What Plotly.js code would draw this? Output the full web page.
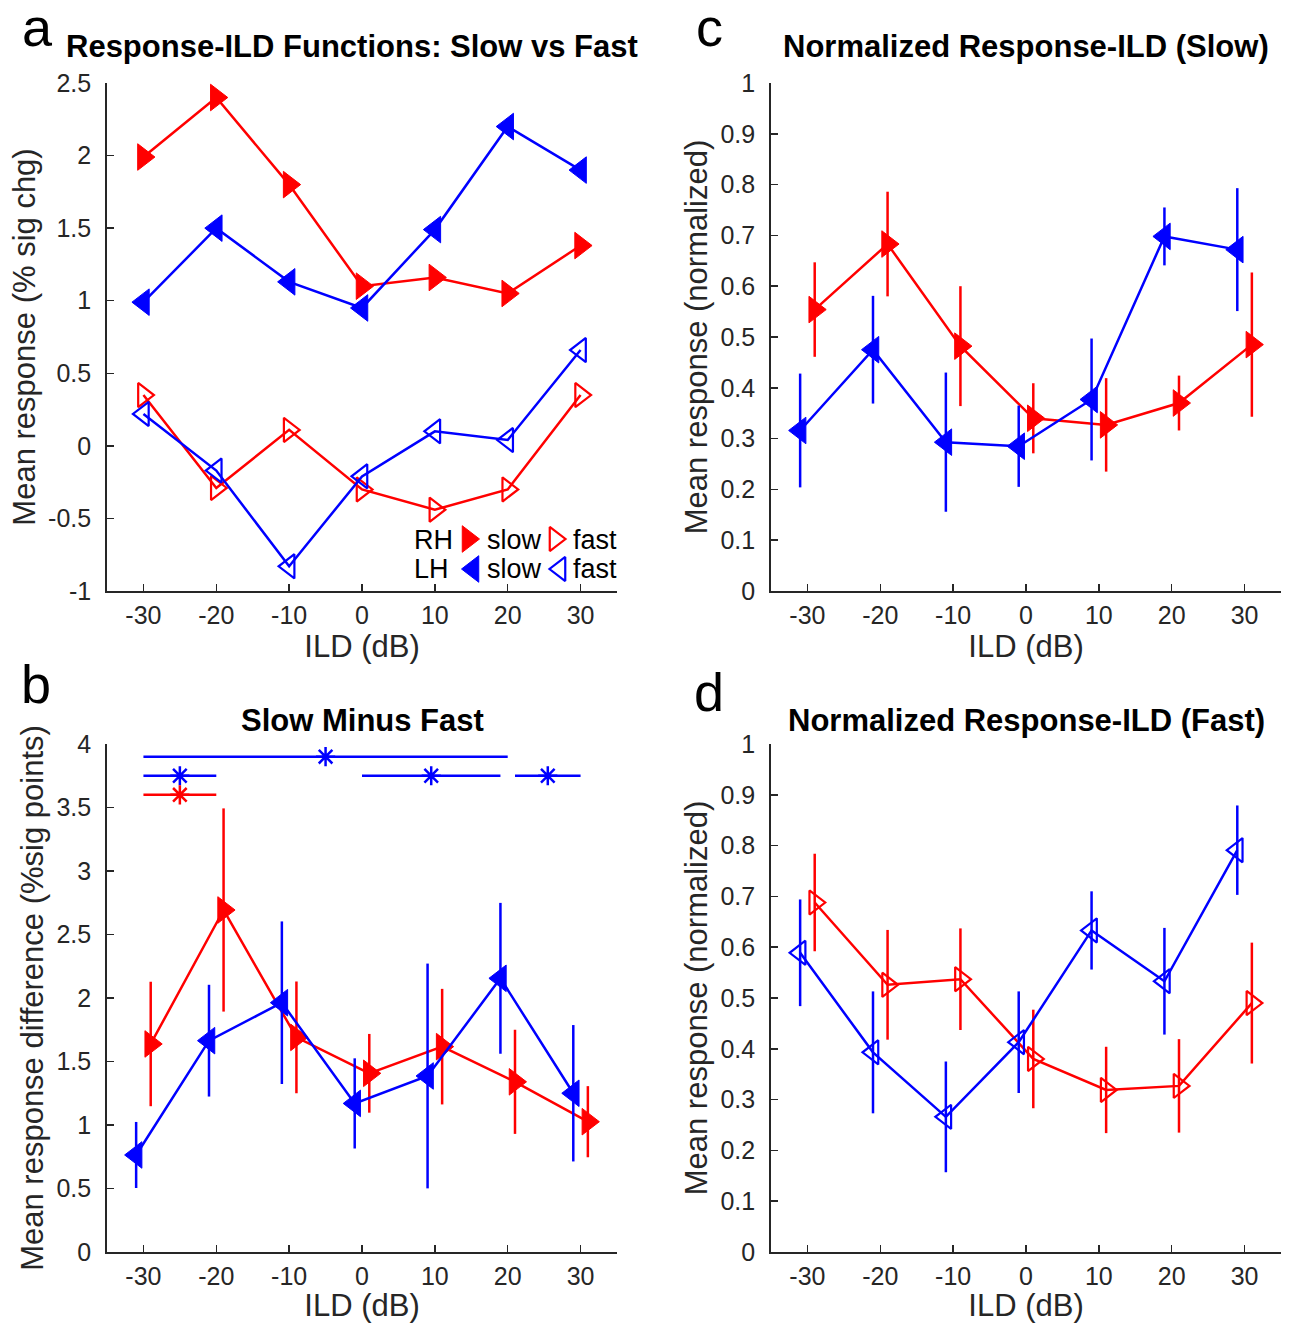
<!DOCTYPE html>
<html>
<head>
<meta charset="utf-8">
<script src="https://cdn.plot.ly/plotly-3.0.1.min.js"></script>
<style>html,body{margin:0;padding:0;background:#fff;}#chart{width:1295px;height:1323px;}</style>
</head>
<body>
<div id="chart"></div>
<script>
// ---------------- data ----------------
var ild = [-30, -20, -10, 0, 10, 20, 30];
var xTickLabels = ['-30', '-20', '-10', '0', '10', '20', '30'];
var yTicksA = [-1, -0.5, 0, 0.5, 1, 1.5, 2, 2.5];
var yTickLabelsA = ['-1', '-0.5', '0', '0.5', '1', '1.5', '2', '2.5'];
var yTicksN = [0, 0.1, 0.2, 0.3, 0.4, 0.5, 0.6, 0.7, 0.8, 0.9, 1];
var yTickLabelsN = ['0', '0.1', '0.2', '0.3', '0.4', '0.5', '0.6', '0.7', '0.8', '0.9', '1'];
var yTicksB = [0, 0.5, 1, 1.5, 2, 2.5, 3, 3.5, 4];
var yTickLabelsB = ['0', '0.5', '1', '1.5', '2', '2.5', '3', '3.5', '4'];

// panel a: raw response (% sig chg)
var rhSlowA = [1.99, 2.40, 1.80, 1.10, 1.16, 1.05, 1.38];
var lhSlowA = [0.99, 1.50, 1.13, 0.95, 1.49, 2.20, 1.90];
var rhFastA = [0.35, -0.29, 0.11, -0.30, -0.44, -0.30, 0.35];
var lhFastA = [0.22, -0.17, -0.83, -0.21, 0.10, 0.04, 0.66];

// panel c: normalized slow
var rhSlowN = [0.554, 0.683, 0.482, 0.340, 0.327, 0.370, 0.485];
var rhSlowNErr = [0.093, 0.103, 0.118, 0.069, 0.092, 0.054, 0.142];
var lhSlowN = [0.316, 0.475, 0.293, 0.285, 0.377, 0.698, 0.672];
var lhSlowNErr = [0.112, 0.106, 0.137, 0.080, 0.120, 0.057, 0.121];

// panel b: slow minus fast
var rhDiff = [1.638, 2.693, 1.690, 1.407, 1.617, 1.340, 1.026];
var rhDiffErr = [0.49, 0.80, 0.44, 0.31, 0.455, 0.41, 0.28];
var lhDiff = [0.764, 1.664, 1.963, 1.170, 1.386, 2.155, 1.250];
var lhDiffErr = [0.26, 0.44, 0.64, 0.355, 0.885, 0.594, 0.537];

// panel b: significance bars
var sigBlueStart = [-30, -30, 0, 21];
var sigBlueEnd = [20, -20, 19, 30];
var sigBlueY = [3.9, 3.75, 3.75, 3.75];
var sigRedStart = [-30];
var sigRedEnd = [-20];
var sigRedY = [3.6];

// panel d: normalized fast
var rhFastN = [0.688, 0.526, 0.537, 0.380, 0.319, 0.327, 0.490];
var rhFastNErr = [0.096, 0.108, 0.100, 0.097, 0.085, 0.092, 0.119];
var lhFastN = [0.589, 0.393, 0.266, 0.413, 0.633, 0.533, 0.791];
var lhFastNErr = [0.105, 0.120, 0.109, 0.100, 0.077, 0.105, 0.088];

// ---------------- styling ----------------
var RED = '#FF0000', BLUE = '#0000FF', AX = '#262626';
var FONT = '"Liberation Sans", Arial, Helvetica, sans-serif';
var W = 1295, H = 1323;
var jitter = 1.0;
var FILLED = 23, OPEN = 21;
function shift(arr, d) { return arr.map(function (v) { return v + d; }); }

function series(x, y, color, symbol, xa, ya, err) {
  var open = symbol.indexOf('open') >= 0;
  var t = {
    type: 'scatter', mode: 'lines+markers', x: x, y: y, xaxis: xa, yaxis: ya,
    line: { color: color, width: 2.5 },
    marker: { symbol: symbol, size: open ? OPEN : FILLED, color: color,
              line: { color: color, width: open ? 2.2 : 1 } },
    hoverinfo: 'skip', showlegend: false, cliponaxis: false
  };
  if (err) t.error_y = { type: 'data', array: err, visible: true, color: color, thickness: 2.5, width: 0 };
  return t;
}

function sigTraces(starts, ends, ys, color) {
  var lx = [], ly = [], mx = [], my = [];
  for (var i = 0; i < starts.length; i++) {
    lx.push(starts[i], ends[i], null); ly.push(ys[i], ys[i], null);
    mx.push((starts[i] + ends[i]) / 2); my.push(ys[i]);
  }
  return [
    { type: 'scatter', mode: 'lines', x: lx, y: ly, xaxis: 'x3', yaxis: 'y3',
      line: { color: color, width: 2.5 }, hoverinfo: 'skip', showlegend: false, cliponaxis: false },
    { type: 'scatter', mode: 'markers', x: mx, y: my, xaxis: 'x3', yaxis: 'y3',
      marker: { symbol: 'asterisk-open', size: 16, color: color, line: { color: color, width: 2.5 } },
      hoverinfo: 'skip', showlegend: false, cliponaxis: false }
  ];
}

var traces = [];
// panel a
traces.push(series(ild, rhFastA, RED, 'triangle-right-open', 'x', 'y'));
traces.push(series(ild, lhFastA, BLUE, 'triangle-left-open', 'x', 'y'));
traces.push(series(ild, rhSlowA, RED, 'triangle-right', 'x', 'y'));
traces.push(series(ild, lhSlowA, BLUE, 'triangle-left', 'x', 'y'));
// panel c
traces.push(series(shift(ild, jitter), rhSlowN, RED, 'triangle-right', 'x2', 'y2', rhSlowNErr));
traces.push(series(shift(ild, -jitter), lhSlowN, BLUE, 'triangle-left', 'x2', 'y2', lhSlowNErr));
// panel b
traces.push(series(shift(ild, jitter), rhDiff, RED, 'triangle-right', 'x3', 'y3', rhDiffErr));
traces.push(series(shift(ild, -jitter), lhDiff, BLUE, 'triangle-left', 'x3', 'y3', lhDiffErr));
traces = traces.concat(sigTraces(sigBlueStart, sigBlueEnd, sigBlueY, BLUE));
traces = traces.concat(sigTraces(sigRedStart, sigRedEnd, sigRedY, RED));
// panel d
traces.push(series(shift(ild, jitter), rhFastN, RED, 'triangle-right-open', 'x4', 'y4', rhFastNErr));
traces.push(series(shift(ild, -jitter), lhFastN, BLUE, 'triangle-left-open', 'x4', 'y4', lhFastNErr));

// legend glyphs on a pixel-space overlay axis
function legendGlyph(px, py, color, symbol) {
  var open = symbol.indexOf('open') >= 0;
  return { type: 'scatter', mode: 'markers', x: [px], y: [py], xaxis: 'x5', yaxis: 'y5',
    marker: { symbol: symbol, size: open ? OPEN : FILLED, color: color, line: { color: color, width: open ? 2.2 : 1 } },
    hoverinfo: 'skip', showlegend: false, cliponaxis: false };
}
traces.push(legendGlyph(468, 539, RED, 'triangle-right'));
traces.push(legendGlyph(555, 539, RED, 'triangle-right-open'));
traces.push(legendGlyph(473, 569, BLUE, 'triangle-left'));
traces.push(legendGlyph(560, 569, BLUE, 'triangle-left-open'));

function xDom(l, r) { return [l / W, r / W]; }
function yDom(t, b) { return [1 - b / H, 1 - t / H]; }

function xAxis(dom, anchor) {
  return {
    domain: dom, anchor: anchor, range: [-35, 35],
    tickmode: 'array', tickvals: ild, ticktext: xTickLabels,
    ticks: 'inside', ticklen: 7, tickwidth: 1.5, tickcolor: AX,
    showline: true, linecolor: AX, linewidth: 1.8, mirror: false,
    showgrid: false, zeroline: false,
    tickfont: { family: FONT, size: 25, color: AX },
    ticklabelstandoff: 1,
    title: { text: 'ILD (dB)', font: { family: FONT, size: 31, color: AX }, standoff: 0 },
    automargin: false, fixedrange: true
  };
}
function yAxis(dom, anchor, range, ticks, labels, title) {
  return {
    domain: dom, anchor: anchor, range: range,
    tickmode: 'array', tickvals: ticks, ticktext: labels,
    ticks: 'inside', ticklen: 7, tickwidth: 1.5, tickcolor: AX,
    showline: true, linecolor: AX, linewidth: 1.8, mirror: false,
    showgrid: false, zeroline: false,
    tickfont: { family: FONT, size: 25, color: AX },
    ticklabelstandoff: 9,
    title: { text: title, font: { family: FONT, size: 31, color: AX }, standoff: 3 },
    automargin: false, fixedrange: true
  };
}

function ann(text, px, py, size, opts) {
  var a = { text: text, x: px, y: py, xref: 'x5', yref: 'y5', showarrow: false,
    font: { family: FONT, size: size, color: '#000' }, xanchor: 'center', yanchor: 'middle' };
  for (var k in (opts || {})) a[k] = opts[k];
  return a;
}

var topL = xDom(107, 617), topR = xDom(771, 1281);
var rowT = yDom(83, 591), rowB = yDom(744, 1252);

var layout = {
  width: W, height: H,
  margin: { l: 0, r: 0, t: 0, b: 0, pad: 0 },
  paper_bgcolor: '#fff', plot_bgcolor: 'rgba(0,0,0,0)',
  showlegend: false,
  font: { family: FONT, color: '#000' },
  xaxis: xAxis(topL, 'y'),
  yaxis: yAxis(rowT, 'x', [-1, 2.5], yTicksA, yTickLabelsA, 'Mean response (% sig chg)'),
  xaxis2: xAxis(topR, 'y2'),
  yaxis2: yAxis(rowT, 'x2', [0, 1], yTicksN, yTickLabelsN, 'Mean response (normalized)'),
  xaxis3: xAxis(topL, 'y3'),
  yaxis3: yAxis(rowB, 'x3', [0, 4], yTicksB, yTickLabelsB, 'Mean response difference (%sig points)'),
  xaxis4: xAxis(topR, 'y4'),
  yaxis4: yAxis(rowB, 'x4', [0, 1], yTicksN, yTickLabelsN, 'Mean response (normalized)'),
  xaxis5: { domain: [0, 1], anchor: 'y5', range: [0, W], visible: false, fixedrange: true },
  yaxis5: { domain: [0, 1], anchor: 'x5', range: [H, 0], visible: false, fixedrange: true },
  annotations: [
    ann('<b>Response-ILD Functions: Slow vs Fast</b>', 352, 46, 31),
    ann('<b>Normalized Response-ILD (Slow)</b>', 1026, 46, 31),
    ann('<b>Slow Minus Fast</b>', 362, 720, 31),
    ann('<b>Normalized Response-ILD (Fast)</b>', 1026, 720, 31),
    ann('a', 37, 27, 54),
    ann('b', 36, 684, 54),
    ann('c', 709, 27, 54),
    ann('d', 709, 692, 54),
    ann('RH', 433, 540, 27),
    ann('slow', 485, 540, 27, { xanchor: 'left' }),
    ann('fast', 571, 540, 27, { xanchor: 'left' }),
    ann('LH', 431, 569, 27),
    ann('slow', 485, 569, 27, { xanchor: 'left' }),
    ann('fast', 571, 569, 27, { xanchor: 'left' })
  ]
};

Plotly.newPlot('chart', traces, layout, { staticPlot: true, displayModeBar: false });
</script>
</body>
</html>
